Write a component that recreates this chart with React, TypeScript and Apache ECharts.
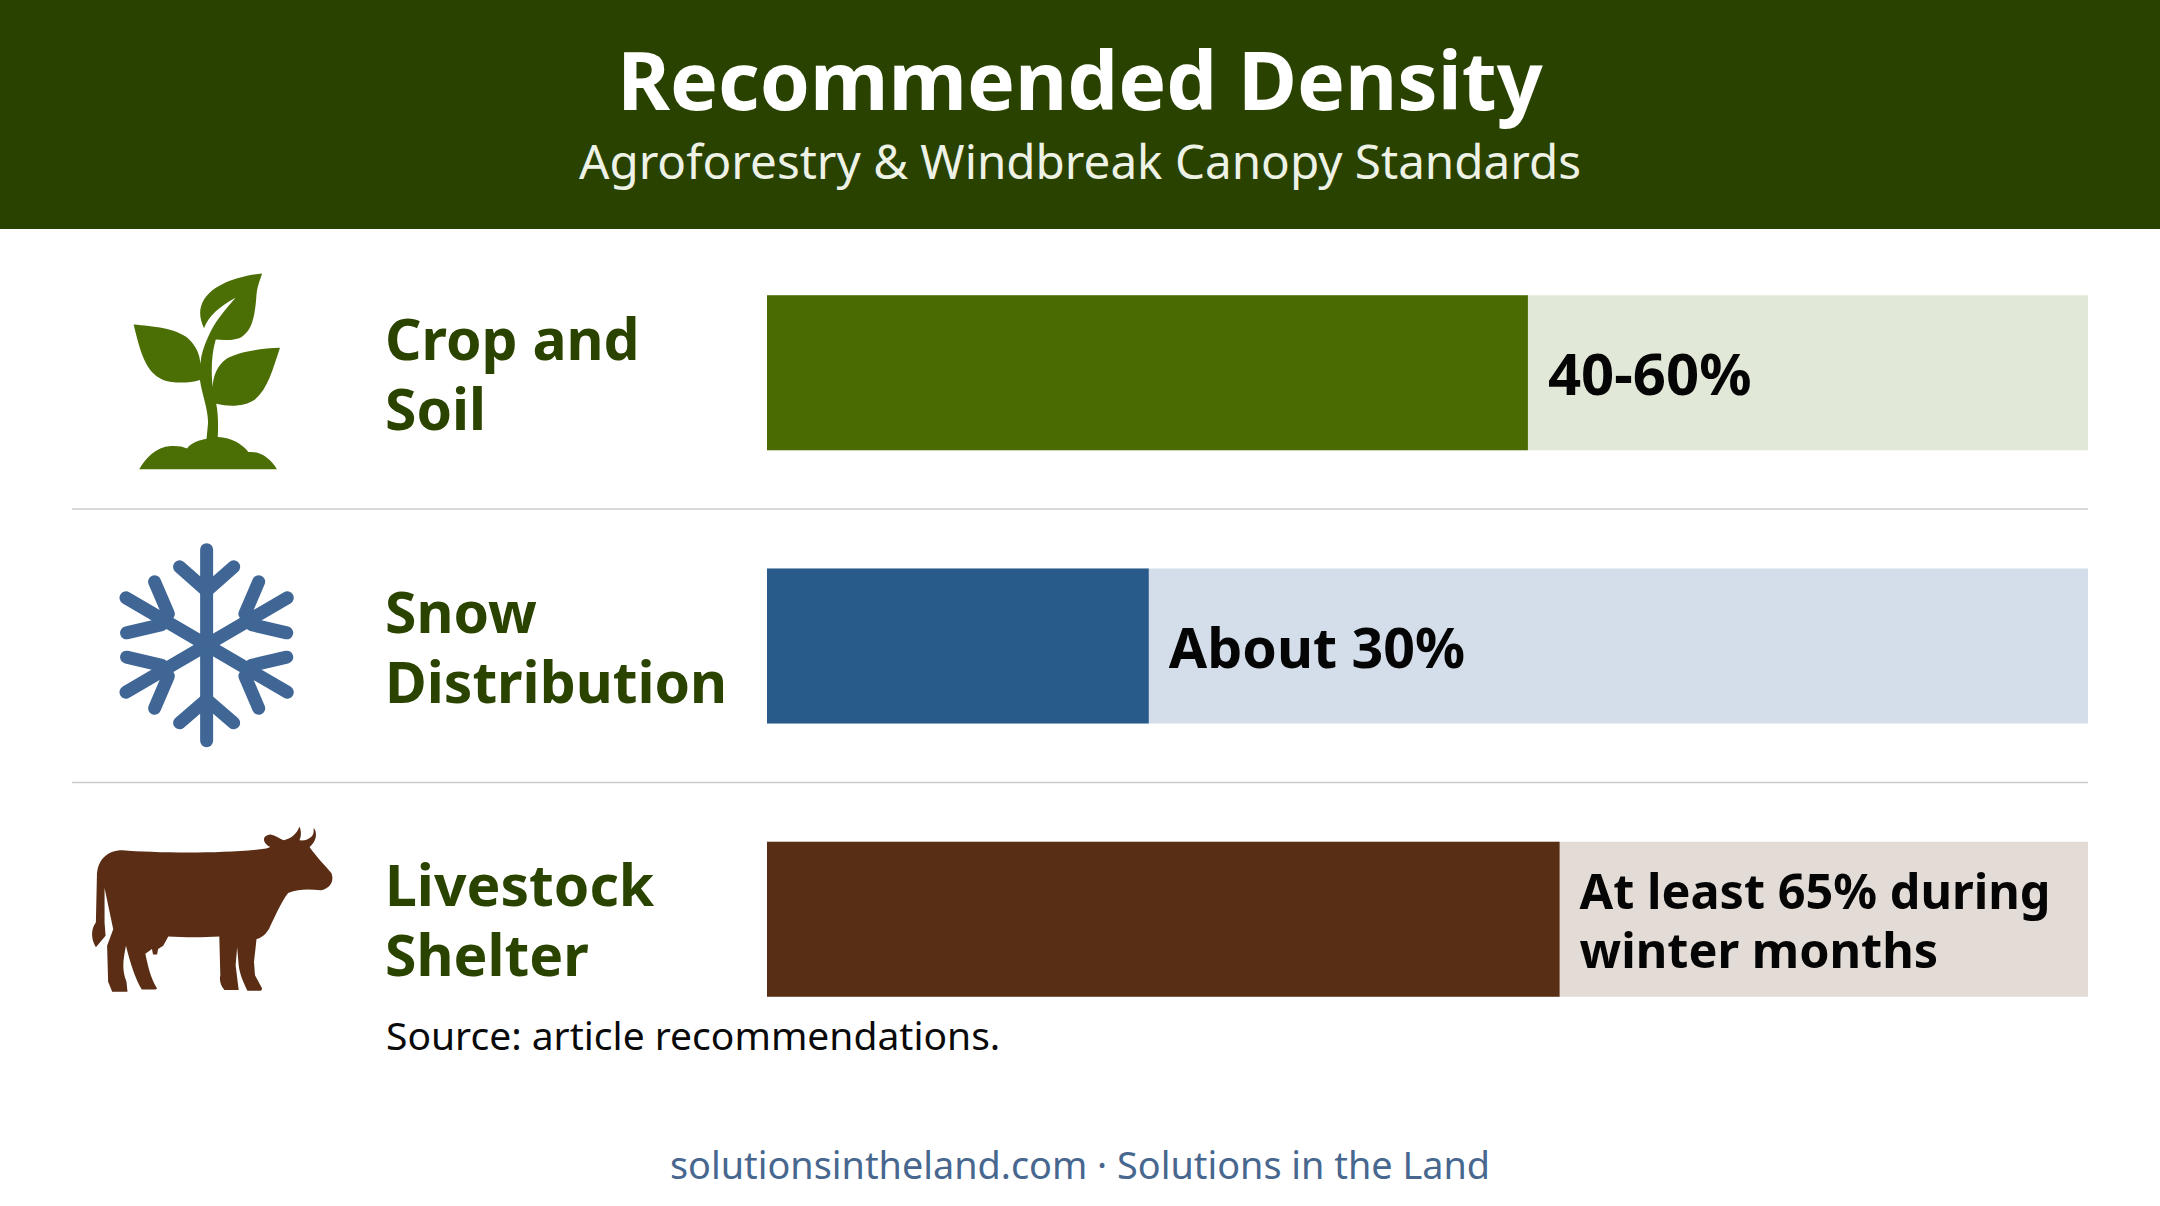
import React, { useEffect, useRef } from "react";
import * as echarts from "echarts";

const categories = ["Crop and\nSoil", "Snow\nDistribution", "Livestock\nShelter"];
const fillValues = [57.6, 28.9, 60];
const trackValues = [100, 100, 100];
const valueLabels = ["40-60%", "About 30%", "At least 65% during\nwinter months"];
const fillColors = ["#4a6b02", "#285a8a", "#582e14"];
const trackColors = ["#e1e8d7", "#d4deea", "#e3dbd6"];
const labelSizes = [58, 55.5, 48.6];

const FONT = '"Noto Sans", sans-serif';

const PLANT =
  "M514 122C470 128 420 150 400 195C388 225 392 250 400 275C410 240 430 215 462 190C440 225 420 260 408 300C400 325 394 350 393 375L392 420C396 460 408 500 408 540L405 585C380 592 372 602 367 612C358 606 348 604 335 605C305 608 285 640 273 670L543 670C530 640 510 618 487 622C475 600 455 582 427 580C428 550 428 515 424 487C450 496 480 495 500 475C525 445 535 390 549 330C510 332 470 340 445 360C425 380 418 410 417 440C414 400 414 350 423 307C445 310 465 308 475 298C495 280 500 240 503 180C505 155 510 140 514 122Z" +
  "M262 265C300 270 345 275 370 305C385 325 392 350 393 375L392 420C370 430 340 430 320 420C285 400 275 340 262 265Z";

const COW =
  "M190 260C190 210 210 180 240 180C300 188 440 192 522 175L530 170C515 160 512 135 530 132C540 135 550 145 556 150C570 145 583 130 587 108C592 125 590 140 587 150C597 152 605 147 610 140C616 132 615 120 615 112C622 125 622 150 607 170C620 200 640 230 650 250C655 270 650 295 630 302C610 300 590 295 565 310C550 340 540 380 530 410C525 430 515 445 503 450L498 520L500 560L514 600L512 607L485 607C480 590 470 560 468 530L465 475L462 530L468 605L440 605C432 590 430 575 432 560L430 442C400 445 360 445 330 442L320 470L310 480L308 497L300 497L298 480L285 495C290 530 295 570 308 600L305 603L278 603C265 570 255 520 247 470C242 510 238 540 248 580L250 610L220 610L212 580L210 470L222 420L205 295L205 400L207 440L188 475C178 450 178 420 188 400Z";

echarts.graphic.registerShape("plantIcon", echarts.graphic.extendPath(PLANT, {}));
echarts.graphic.registerShape("cowIcon", echarts.graphic.extendPath(COW, {}));

const ICON_X = 1 / 1.96;
const PLANT_Y = 1 / 2.8;
const COW_Y = 1 / 3.04;
const flakeColor = "#3f6695";
const flakeLines: number[][][] = [
  [[405, 895], [405, 1430]],
  [[352, 943], [405, 1010], [458, 943]],
  [[352, 1380], [405, 1315], [458, 1380]],
  [[247, 1030], [563, 1294]],
  [[563, 1030], [247, 1294]],
  [[303, 985], [330, 1075]],
  [[248, 1128], [317, 1105]],
  [[507, 985], [480, 1075]],
  [[562, 1128], [493, 1105]],
  [[303, 1339], [330, 1249]],
  [[248, 1196], [317, 1219]],
  [[507, 1339], [480, 1249]],
  [[562, 1196], [493, 1219]],
];

function buildOption() {
  return {
    animation: false,
    backgroundColor: "#ffffff",
    grid: { left: 767, top: 236, width: 1321, height: 820, containLabel: false },
    xAxis: { type: "value", min: 0, max: 100, show: false },
    yAxis: {
      type: "category",
      inverse: true,
      data: categories,
      axisLine: { show: false },
      axisTick: { show: false },
      axisLabel: {
        align: "left",
        margin: 382,
        fontFamily: FONT,
        fontWeight: "bold",
        fontSize: 57,
        lineHeight: 70,
        padding: [0, 0, 4, 0],
        color: "#2a4400",
      },
    },
    series: [
      {
        type: "bar",
        barWidth: 155,
        barGap: "-100%",
        silent: true,
        z: 1,
        data: trackValues.map((value, i) => ({ value, itemStyle: { color: trackColors[i] } })),
      },
      {
        type: "bar",
        barWidth: 155,
        silent: true,
        z: 2,
        data: fillValues.map((value, i) => ({
          value,
          itemStyle: { color: fillColors[i] },
          label: {
            show: true,
            position: "right",
            distance: 20,
            formatter: valueLabels[i],
            fontFamily: FONT,
            fontWeight: "bold",
            fontSize: labelSizes[i],
            lineHeight: 59,
            padding: [0, 0, 3, 0],
            color: "#050505",
          },
        })),
      },
    ],
    graphic: [
      { type: "rect", z: 0, shape: { x: 0, y: 0, width: 2160, height: 229 }, style: { fill: "#2a4200" } },
      {
        type: "text", x: 1080, y: 79, z: 5,
        style: { text: "Recommended Density", fill: "#ffffff", font: `bold 80.5px ${FONT}`, textAlign: "center", textVerticalAlign: "middle" },
      },
      {
        type: "text", x: 1080, y: 160, z: 5,
        style: { text: "Agroforestry & Windbreak Canopy Standards", fill: "#eef2e6", font: `47.6px ${FONT}`, textAlign: "center", textVerticalAlign: "middle" },
      },
      { type: "line", shape: { x1: 72, y1: 509, x2: 2088, y2: 509 }, style: { stroke: "#cccccc", lineWidth: 1.5 } },
      { type: "line", shape: { x1: 72, y1: 782.5, x2: 2088, y2: 782.5 }, style: { stroke: "#cccccc", lineWidth: 1.5 } },
      { type: "plantIcon", x: 0, y: 230, scaleX: ICON_X, scaleY: PLANT_Y, style: { fill: "#4b6e05" } },
      { type: "cowIcon", x: 0, y: 791, scaleX: ICON_X, scaleY: COW_Y, style: { fill: "#5a2d14" } },
      ...flakeLines.map((pts) => ({
        type: "polyline",
        shape: { points: pts.map(([px, py]) => [px * ICON_X, 230 + py * PLANT_Y]) },
        style: { stroke: flakeColor, lineWidth: 13, lineCap: "round", lineJoin: "miter", fill: "none" },
      })),
      {
        type: "text", x: 386, y: 1034,
        style: { text: "Source: article recommendations.", fill: "#0a0a0a", font: `39px ${FONT}`, textAlign: "left", textVerticalAlign: "middle" },
      },
      {
        type: "text", x: 1080, y: 1164,
        style: { text: "solutionsintheland.com · Solutions in the Land", fill: "#47678f", font: `37.8px ${FONT}`, textAlign: "center", textVerticalAlign: "middle" },
      },
    ],
  };
}

export default function App() {
  const ref = useRef<HTMLDivElement>(null);
  useEffect(() => {
    document.body.style.margin = "0";
    const chart = echarts.init(ref.current!, null, { renderer: "svg" });
    chart.setOption(buildOption() as any);
    return () => chart.dispose();
  }, []);
  return <div ref={ref} style={{ width: 2160, height: 1206 }} />;
}
